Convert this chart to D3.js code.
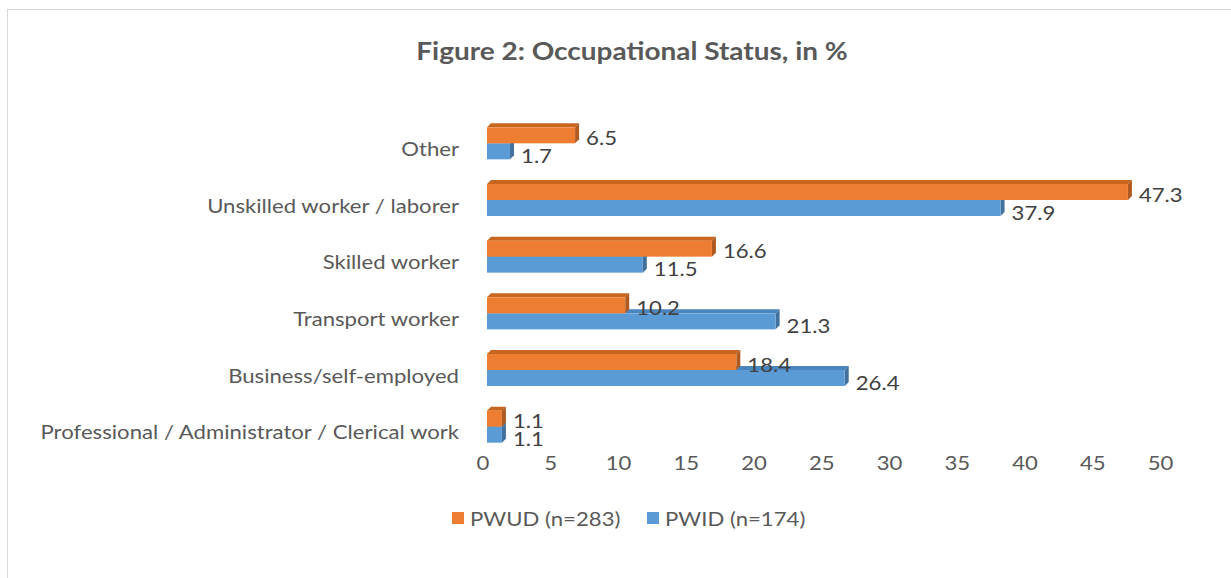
<!DOCTYPE html>
<html>
<head>
<meta charset="utf-8">
<script src="https://cdn.jsdelivr.net/npm/d3@7"></script>
<style>
  body { margin: 0; background: #fff; }
  text { font-family: Lato, "Open Sans", sans-serif; }
</style>
</head>
<body>
<div id="chart"></div>
<script>
// chart data
const categories = [
    "Other",
    "Unskilled worker / laborer",
    "Skilled worker",
    "Transport worker",
    "Business/self-employed",
    "Professional / Administrator / Clerical work"
];
const pwud = [6.5, 47.3, 16.6, 10.2, 18.4, 1.1];
const pwid = [1.7, 37.9, 11.5, 21.3, 26.4, 1.1];
const xTicks = [0, 5, 10, 15, 20, 25, 30, 35, 40, 45, 50];
const seriesNames = ["PWUD (n=283)", "PWID (n=174)"];

const width = 1231, height = 578;
const depth = 4;
const sx = 1.166; // text in the original is a bit wider than Lato

const svg = d3.select("#chart").append("svg")
    .attr("width", width)
    .attr("height", height);

// text helper: places text with a small horizontal stretch
function addText(parent, px, py, str, opts) {
    const t = parent.append("text")
        .attr("transform", `translate(${px},${py}) scale(${sx},1)`)
        .attr("dy", "0.35em")
        .attr("font-size", opts.size || 19)
        .attr("fill", opts.fill || "#595959")
        .attr("text-anchor", opts.anchor || "start")
        .text(str);
    if (opts.bold) t.attr("font-weight", "bold");
    return t;
}

// outer frame (cropped at right and bottom)
svg.append("rect")
    .attr("x", 7.5).attr("y", 9.5)
    .attr("width", 1240).attr("height", 600)
    .attr("fill", "#fff")
    .attr("stroke", "#d9d9d9");

addText(svg, 632, 52, "Figure 2: Occupational Status, in %", { size: 24, bold: true, anchor: "middle" });

const x = d3.scaleLinear().domain([0, 50]).range([487, 1164.5]);
const y = d3.scaleBand().domain(categories).range([115, 455])
    .paddingInner(0.435).paddingOuter(0.2175);

const series = [
    { name: seriesNames[1], values: pwid, front: "#5b9bd5", top: "#4a86bd", side: "#41719c", slot: 1, dy: 5 },
    { name: seriesNames[0], values: pwud, front: "#ed7d31", top: "#c8651f", side: "#ae5a21", slot: 0, dy: 3 }
];

const barH = y.bandwidth() / 2;

// bars, blue behind orange
categories.forEach((c, i) => {
    series.forEach(s => {
        const v = s.values[i];
        const x0 = x(0), x1 = x(v);
        const y0 = y(c) + s.slot * barH, y1 = y0 + barH;
        const g = svg.append("g");
        g.append("path")
            .attr("d", `M${x0},${y0}L${x0 + depth},${y0 - depth}L${x1 + depth},${y0 - depth}L${x1},${y0}Z`)
            .attr("fill", s.top);
        g.append("path")
            .attr("d", `M${x1},${y0}L${x1 + depth},${y0 - depth}L${x1 + depth},${y1 - depth}L${x1},${y1}Z`)
            .attr("fill", s.side);
        g.append("rect")
            .attr("x", x0).attr("y", y0)
            .attr("width", x1 - x0).attr("height", barH)
            .attr("fill", s.front);
    });
});

// value labels
const valueLabels = svg.append("g");
categories.forEach((c, i) => {
    series.forEach(s => {
        const v = s.values[i];
        addText(valueLabels, x(v) + 11, y(c) + s.slot * barH + barH / 2 + s.dy,
            v.toFixed(1), { fill: "#404040" });
    });
});

// category labels
const catLabels = svg.append("g");
categories.forEach(c => {
    addText(catLabels, 459, y(c) + y.bandwidth() / 2 + 6, c, { anchor: "end" });
});

// x axis tick labels
const tickLabels = svg.append("g");
xTicks.forEach(t => {
    addText(tickLabels, x(t) - 4, 463, t, { anchor: "middle" });
});

// legend
const legend = svg.append("g");
const legendItems = [
    { name: seriesNames[0], color: "#ed7d31", x: 452 },
    { name: seriesNames[1], color: "#5b9bd5", x: 647 }
];
legendItems.forEach(d => {
    legend.append("rect")
        .attr("x", d.x).attr("y", 512)
        .attr("width", 12).attr("height", 12)
        .attr("fill", d.color);
    addText(legend, d.x + 18, 519, d.name, {});
});
</script>
</body>
</html>
